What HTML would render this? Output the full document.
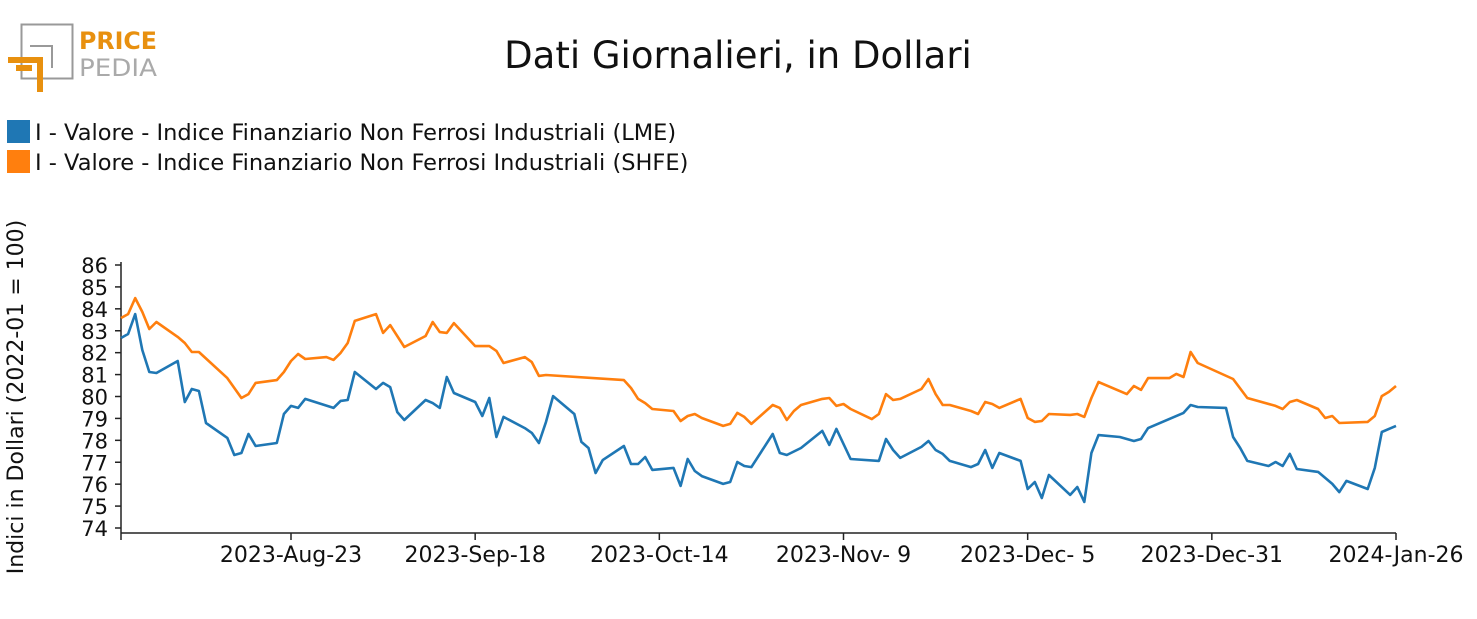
<!DOCTYPE html>
<html><head><meta charset="utf-8"><style>
body{margin:0;background:#fff;width:1477px;height:615px;overflow:hidden;font-family:"DejaVu Sans","Liberation Sans",sans-serif}
svg text{font-family:"DejaVu Sans","Liberation Sans",sans-serif}
</style></head><body>
<svg id="c" width="1477" height="615" xmlns="http://www.w3.org/2000/svg">
<g>
<rect x="21.5" y="24.5" width="51" height="54" fill="none" stroke="#999" stroke-width="2"/>
<path d="M30 46 H52 V68" fill="none" stroke="#999" stroke-width="2"/>
<path d="M8 60 H40 V92 M16 68 H32" fill="none" stroke="#e8900f" stroke-width="6"/>
<text x="79" y="49" font-size="24" font-weight="bold" fill="#e8900f" textLength="78" lengthAdjust="spacingAndGlyphs">PRICE</text>
<text x="79" y="76" font-size="24" fill="#aaa" textLength="78" lengthAdjust="spacingAndGlyphs">PEDIA</text>
</g>
<text x="738" y="68" font-size="37" text-anchor="middle" fill="#111">Dati Giornalieri, in Dollari</text>
<g>
<rect x="7" y="120" width="23" height="23" fill="#1f77b4"/>
<text x="35" y="140" font-size="22.5" fill="#111">I - Valore - Indice Finanziario Non Ferrosi Industriali (LME)</text>
<rect x="7" y="150" width="23" height="23" fill="#ff7f0e"/>
<text x="35" y="170" font-size="22.5" fill="#111">I - Valore - Indice Finanziario Non Ferrosi Industriali (SHFE)</text>
</g>
<text transform="translate(23,397) rotate(-90)" font-size="22" text-anchor="middle" fill="#111">Indici in Dollari (2022-01 = 100)</text>
<g id="axes"></g>
<g id="series"></g>
</svg>
<script>
const lmeDays=[0,1,2,3,4,5,8,9,10,11,12,15,16,17,18,19,22,23,24,25,26,30,31,32,33,36,37,38,39,40,43,44,45,46,47,50,51,52,53,54,57,58,59,60,61,64,65,66,67,68,71,72,73,74,75,78,79,80,81,82,85,86,87,88,89,92,93,94,96,99,100,101,103,107,108,109,110,113,114,115,116,117,120,121,122,123,124,127,128,129,130,131,134,135,136,137,138,141,143,144,145,150,151,152,156,157,158,159,162,163,164,165,166,169,171,172,173,176,177,178,179,180];
const lmeValues=[82.67,82.85,83.76,82.12,81.12,81.07,81.62,79.75,80.34,80.25,78.79,78.11,77.33,77.42,78.29,77.74,77.88,79.2,79.57,79.48,79.89,79.48,79.8,79.84,81.12,80.34,80.62,80.43,79.29,78.93,79.84,79.7,79.48,80.89,80.16,79.75,79.11,79.93,78.15,79.07,78.56,78.34,77.88,78.84,80.02,79.2,77.93,77.65,76.51,77.1,77.74,76.92,76.92,77.24,76.65,76.74,75.92,77.15,76.6,76.37,76.01,76.1,77.01,76.83,76.78,78.29,77.42,77.33,77.65,78.43,77.79,78.52,77.15,77.06,78.06,77.56,77.2,77.7,77.97,77.56,77.38,77.06,76.78,76.92,77.56,76.74,77.42,77.06,75.78,76.1,75.37,76.42,75.51,75.87,75.19,77.42,78.24,78.15,77.97,78.06,78.56,79.25,79.61,79.52,79.48,78.15,77.65,77.06,76.83,77.01,76.83,77.38,76.69,76.56,76.01,75.64,76.15,75.78,76.74,78.38,78.52,78.66];
const shfeDays=[0,1,2,3,4,5,8,9,10,11,15,17,18,19,22,23,24,25,26,29,30,31,32,33,36,37,38,40,43,44,45,46,47,50,52,53,54,57,58,59,60,71,72,73,74,75,78,79,80,81,82,85,86,87,88,89,92,93,94,95,96,99,100,101,102,103,106,107,108,109,110,113,114,115,116,117,120,121,122,123,124,127,128,129,130,131,134,135,136,137,138,142,143,144,145,148,149,150,151,152,157,159,163,164,165,166,169,170,171,172,176,177,178,179,180];
const shfeValues=[83.58,83.76,84.49,83.86,83.08,83.4,82.72,82.44,82.03,82.03,80.84,79.93,80.11,80.62,80.75,81.12,81.62,81.94,81.71,81.8,81.67,81.99,82.44,83.45,83.76,82.9,83.26,82.26,82.76,83.4,82.94,82.9,83.35,82.3,82.3,82.08,81.53,81.8,81.57,80.94,80.98,80.75,80.39,79.89,79.7,79.43,79.34,78.88,79.11,79.2,79.02,78.66,78.75,79.25,79.07,78.75,79.61,79.48,78.93,79.34,79.61,79.89,79.93,79.57,79.66,79.43,78.97,79.2,80.11,79.84,79.89,80.34,80.8,80.11,79.61,79.61,79.34,79.2,79.75,79.66,79.48,79.89,79.02,78.84,78.88,79.2,79.16,79.2,79.07,79.93,80.66,80.11,80.48,80.3,80.84,80.84,81.03,80.89,82.03,81.53,80.8,79.93,79.57,79.43,79.75,79.84,79.43,79.02,79.11,78.79,78.84,79.11,80.02,80.21,80.48];
const yTicks=[74,75,76,77,78,79,80,81,82,83,84,85,86];
const xTickDays=[24,50,76,102,128,154,180];
const xTickLabels=["2023-Aug-23","2023-Sep-18","2023-Oct-14","2023-Nov- 9","2023-Dec- 5","2023-Dec-31","2024-Jan-26"];
const NS="http://www.w3.org/2000/svg";
const X0=121,X1=1396,Y0=528,Y1=265;
const xs=d=>X0+(d-0)/(180-0)*(X1-X0);
const ys=v=>Y0-(v-74)/(86-74)*(Y0-Y1);
const axes=document.getElementById('axes'),ser=document.getElementById('series');
function mk(t,a,p){const e=document.createElementNS(NS,t);for(const k in a)e.setAttribute(k,a[k]);p.appendChild(e);return e;}
let e=mk('line',{x1:X0,y1:262,x2:X0,y2:533,stroke:'#222','stroke-width':1.5},axes);


e=mk('line',{x1:X0,y1:533,x2:X1,y2:533,stroke:'#222','stroke-width':1.5},axes);


yTicks.forEach(v=>{const y=ys(v);
 mk('line',{x1:X0-6,y1:y,x2:X0,y2:y,stroke:'#222','stroke-width':1.5},axes);
 const t=mk('text',{x:X0-13,y:y+8,'font-size':21,'text-anchor':'end',fill:'#111'},axes);t.textContent=v;
 
 });
mk('line',{x1:X0,y1:533,x2:X0,y2:540,stroke:'#222','stroke-width':1.5},axes);
xTickDays.forEach((d,i)=>{const x=xs(d);
 mk('line',{x1:x,y1:533,x2:x,y2:540,stroke:'#222','stroke-width':1.5},axes);
 const t=mk('text',{x:x,y:562,'font-size':22,'text-anchor':'middle',fill:'#111'},axes);t.textContent=xTickLabels[i];
 
 });
function line(days,vals,col,name){const p=mk('polyline',{points:days.map((d,i)=>xs(d).toFixed(1)+','+ys(vals[i]).toFixed(1)).join(' '),fill:'none',stroke:col,'stroke-width':2.6,'stroke-linejoin':'round'},ser);
 
 }
line(shfeDays,shfeValues,'#ff7f0e','series-shfe-line');
line(lmeDays,lmeValues,'#1f77b4','series-lme-line');
</script>
</body></html>
